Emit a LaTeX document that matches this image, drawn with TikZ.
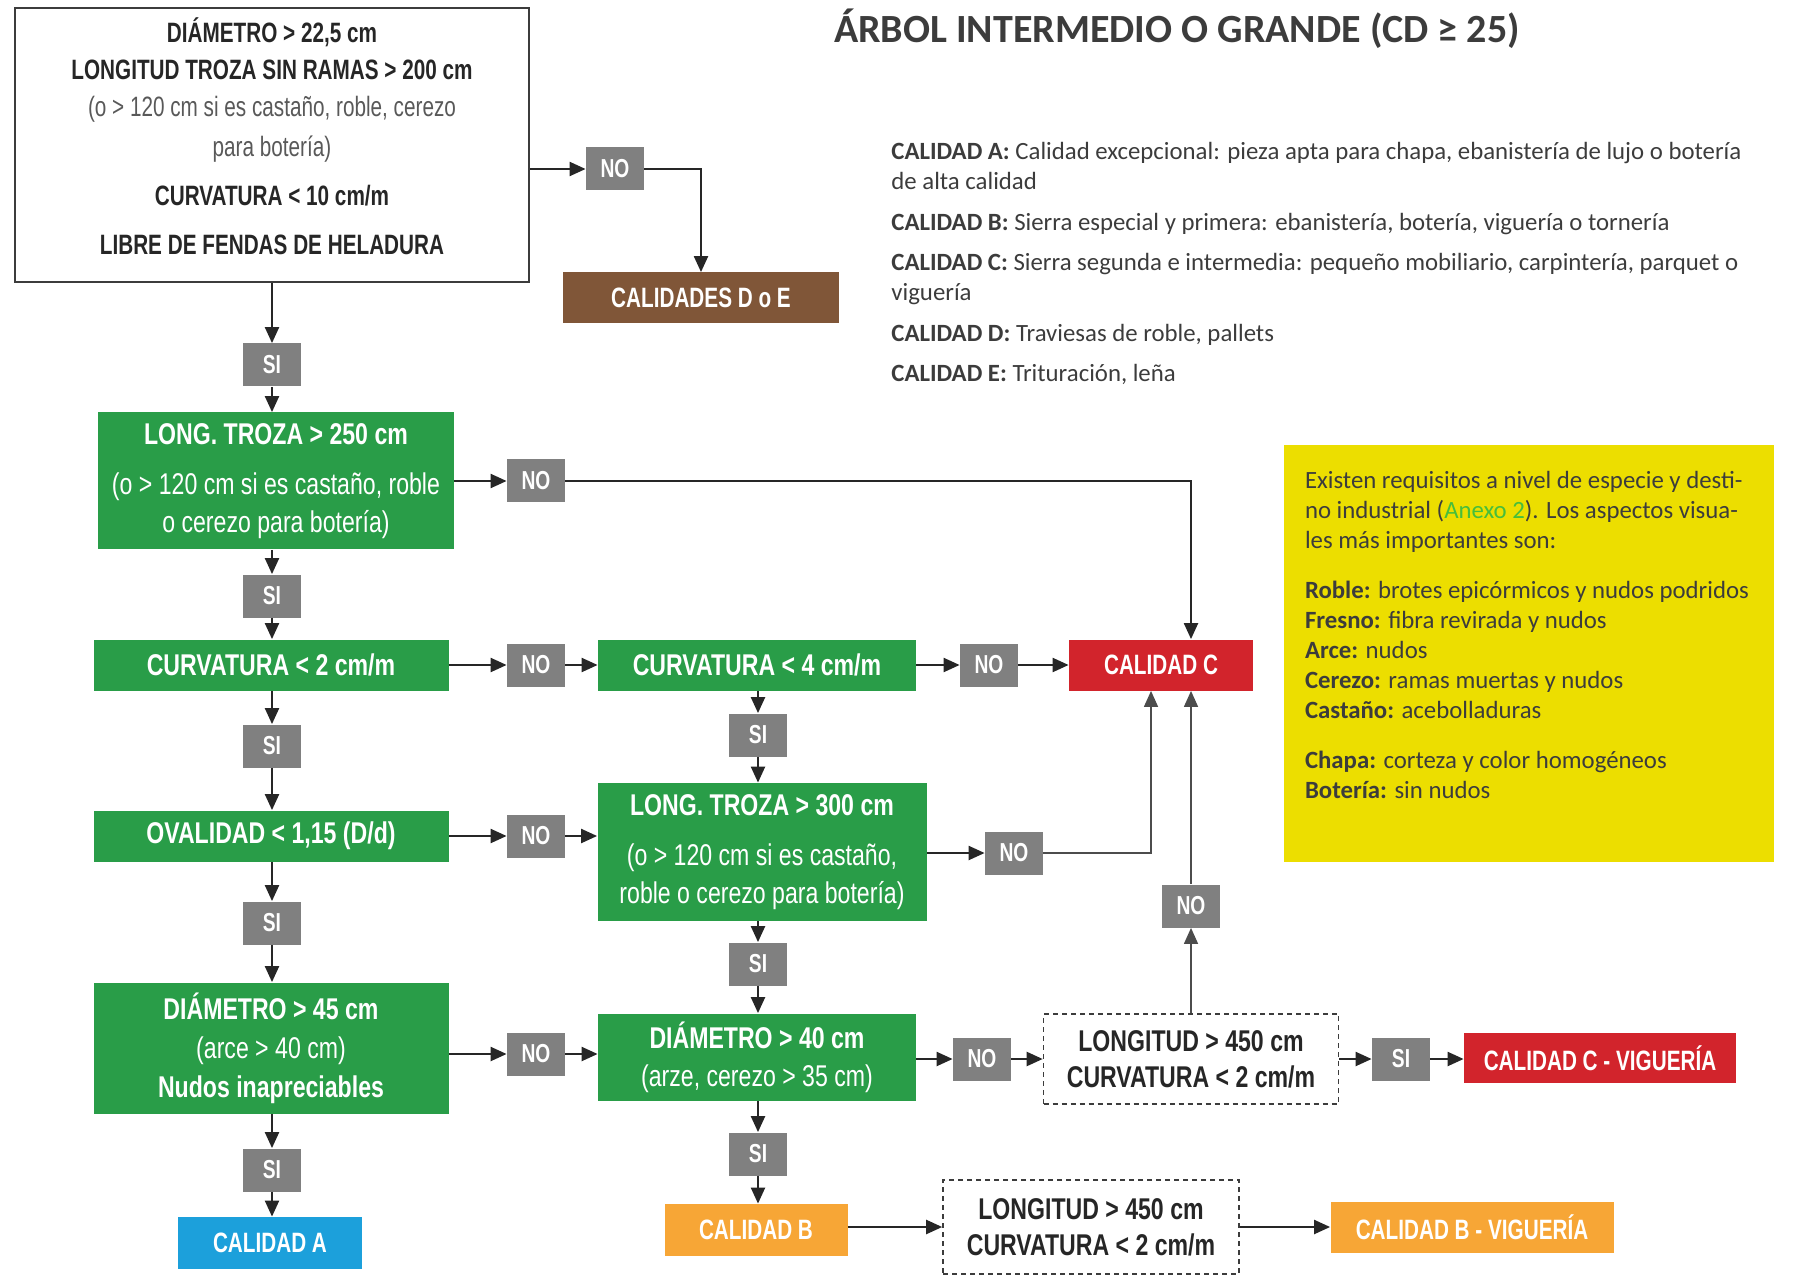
\documentclass[tikz,border=0pt]{standalone}
\usepackage{fontspec}
\setmainfont{Carlito}
\newfontfamily\condfont[FakeStretch=0.74]{Liberation Sans}
\newfontfamily\widecond[FakeStretch=0.77]{Liberation Sans}
\usetikzlibrary{arrows.meta}

\definecolor{boxgreen}{RGB}{41,157,72}
\definecolor{boxred}{RGB}{210,36,44}
\definecolor{boxbrown}{RGB}{128,86,56}
\definecolor{boxorange}{RGB}{247,166,54}
\definecolor{boxblue}{RGB}{28,160,219}
\definecolor{labelgray}{RGB}{128,128,128}
\definecolor{noteyellow}{RGB}{236,222,0}
\definecolor{textgray}{RGB}{60,60,60}
\definecolor{anexogreen}{RGB}{70,190,60}

\tikzset{
  lbl/.style={fill=labelgray, text=white, inner sep=0pt,
    minimum width=29pt, minimum height=21.5pt,
    font=\condfont\bfseries\fontsize{13}{14}\selectfont},
  cond/.style={fill=#1, text=white, inner sep=0pt, align=center,
    font=\widecond\fontsize{15}{21}\selectfont},
  result/.style={fill=#1, text=white, inner sep=0pt,
    font=\condfont\bfseries\fontsize{14}{16}\selectfont},
  dashbox/.style={draw=textgray, line width=0.8pt, dash pattern=on 2.5pt off 2pt,
    inner sep=0pt, align=center, text=black!85,
    font=\widecond\bfseries\fontsize{15}{18}\selectfont},
  arr/.style={draw=black!85, line width=1.1pt, -{Triangle[length=8pt,width=7pt]}},
  thinarr/.style={draw=black!70, line width=0.7pt, -{Triangle[length=8pt,width=7pt]}}
}

\begin{document}
\begin{tikzpicture}[x=0.5pt, y=-0.5pt]
  \useasboundingbox (0,0) rectangle (1814,1288);

  % titulo y leyenda
  \node[text=textgray, font=\bfseries\fontsize{20}{20}\selectfont] (title) at (1177,29) {ÁRBOL INTERMEDIO O GRANDE (CD ≥ 25)};
  \node[anchor=north west, align=left, inner sep=0pt, text=textgray, font=\fontsize{12.4}{15}\selectfont] (defs) at (891,142) {%
    \textbf{CALIDAD A:} Calidad excepcional: pieza apta para chapa, ebanistería de lujo o botería\\
    de alta calidad\\[5.5pt]
    \textbf{CALIDAD B:} Sierra especial y primera: ebanistería, botería, viguería o tornería\\[5pt]
    \textbf{CALIDAD C:} Sierra segunda e intermedia: pequeño mobiliario, carpintería, parquet o\\
    viguería\\[5.5pt]
    \textbf{CALIDAD D:} Traviesas de roble, pallets\\[5pt]
    \textbf{CALIDAD E:} Trituración, leña};

  % nota amarilla
  \node[fill=noteyellow, minimum width=245pt, minimum height=208.5pt] (note) at (1529,653.5) {};
  \node[anchor=north west, align=left, inner sep=0pt, text=textgray, font=\fontsize{12.4}{15}\selectfont] (notetxt) at ([xshift=10.5pt,yshift=-13pt]note.north west) {%
    Existen requisitos a nivel de especie y desti-\\
    no industrial (\textcolor{anexogreen}{Anexo 2}). Los aspectos visua-\\
    les más importantes son:\\[10pt]
    \textbf{Roble:} brotes epicórmicos y nudos podridos\\
    \textbf{Fresno:} fibra revirada y nudos\\
    \textbf{Arce:} nudos\\
    \textbf{Cerezo:} ramas muertas y nudos\\
    \textbf{Castaño:} acebolladuras\\[10pt]
    \textbf{Chapa:} corteza y color homogéneos\\
    \textbf{Botería:} sin nudos};

  % cajas
  \node[draw=textgray, line width=1pt, minimum width=257pt, minimum height=137pt] (top) at (272,145) {};
  \node[align=center, inner sep=0pt, text=black!85,
    font=\condfont\fontsize{14}{18.5}\selectfont] (toptxt) at (272,136) {%
    \textbf{DIÁMETRO > 22,5 cm}\\
    \textbf{LONGITUD TROZA SIN RAMAS > 200 cm}\\
    {\color{black!65}(o > 120 cm si es castaño, roble, cerezo}\\[1.5pt]
    {\color{black!65}para botería)}\\[6pt]
    \textbf{CURVATURA < 10 cm/m}\\[6pt]
    \textbf{LIBRE DE FENDAS DE HELADURA}};
  \node[result=boxbrown, minimum width=138pt, minimum height=25.5pt] (cde) at (701,298) {CALIDADES D o E};

  \node[cond=boxgreen, minimum width=178pt, minimum height=68.5pt] (lt250) at (276,481) {%
    \textbf{LONG. TROZA > 250 cm}\\[4pt](o > 120 cm si es castaño, roble\\[-2pt]o cerezo para botería)};
  \node[cond=boxgreen, minimum width=177.5pt, minimum height=25.5pt] (curv2) at (271,665) {\textbf{CURVATURA < 2 cm/m}};
  \node[cond=boxgreen, minimum width=177.5pt, minimum height=25.5pt] (oval) at (271,836) {\textbf{OVALIDAD < 1,15 (D/d)}};
  \node[cond=boxgreen, minimum width=177.5pt, minimum height=65.5pt, font=\widecond\fontsize{15}{19.5}\selectfont] (d45) at (271,1048) {%
    \textbf{DIÁMETRO > 45 cm}\\(arce > 40 cm)\\\textbf{Nudos inapreciables}};
  \node[result=boxblue, minimum width=92pt, minimum height=26pt] (ca) at (270,1243) {CALIDAD A};

  \node[cond=boxgreen, minimum width=159pt, minimum height=25.5pt] (curv4) at (757,665) {\textbf{CURVATURA < 4 cm/m}};
  \node[cond=boxgreen, minimum width=164.5pt, minimum height=69pt] (lt300) at (762,852) {%
    \textbf{LONG. TROZA > 300 cm}\\[4pt](o > 120 cm si es castaño,\\[-2pt]roble o cerezo para botería)};
  \node[cond=boxgreen, minimum width=159pt, minimum height=43.5pt, font=\widecond\fontsize{15}{19}\selectfont] (d40) at (757,1057) {%
    \textbf{DIÁMETRO > 40 cm}\\(arze, cerezo > 35 cm)};
  \node[result=boxorange, minimum width=91.5pt, minimum height=26pt] (cb) at (756,1230) {CALIDAD B};

  \node[result=boxred, minimum width=92pt, minimum height=25.5pt] (cc) at (1161,665) {CALIDAD C};
  \node[dashbox, minimum width=147.5pt, minimum height=45pt] (len1) at (1191,1059) {LONGITUD > 450 cm\\CURVATURA < 2 cm/m};
  \node[result=boxred, minimum width=136pt, minimum height=25pt] (ccv) at (1600,1058) {CALIDAD C - VIGUERÍA};
  \node[dashbox, minimum width=148pt, minimum height=47pt] (len2) at (1091,1227) {LONGITUD > 450 cm\\CURVATURA < 2 cm/m};
  \node[result=boxorange, minimum width=141.5pt, minimum height=25.5pt] (cbv) at (1472,1227) {CALIDAD B - VIGUERÍA};

  % etiquetas SI / NO
  \node[lbl] (no1) at (615,169) {NO};
  \node[lbl] (si1) at (272,365) {SI};
  \node[lbl] (no2) at (536,481) {NO};
  \node[lbl] (si2) at (272,596) {SI};
  \node[lbl] (no3) at (536,665) {NO};
  \node[lbl] (no4) at (989,665) {NO};
  \node[lbl] (si3) at (272,746) {SI};
  \node[lbl] (si6) at (758,735) {SI};
  \node[lbl] (no5) at (536,836) {NO};
  \node[lbl] (no6) at (1014,853) {NO};
  \node[lbl] (no7) at (1191,906) {NO};
  \node[lbl] (si4) at (272,923) {SI};
  \node[lbl] (si7) at (758,964) {SI};
  \node[lbl] (no8) at (536,1054) {NO};
  \node[lbl] (no9) at (982,1059) {NO};
  \node[lbl] (si8) at (1401,1059) {SI};
  \node[lbl] (si5) at (272,1170) {SI};
  \node[lbl] (si9) at (758,1154) {SI};

  % flechas
  \draw[arr] (top.east |- no1) -- (no1);
  \draw[arr] (no1) -| (cde);
  \draw[arr] (top.south -| si1) -- (si1);
  \draw[arr] (si1) -- (si1 |- lt250.north);
  \draw[arr] (lt250) -- (no2);
  \draw[arr] (no2) -| (no7 |- cc.north);

  \draw[arr] (lt250.south -| si2) -- (si2);
  \draw[arr] (si2) -- (si2 |- curv2.north);
  \draw[arr] (curv2) -- (no3);
  \draw[arr] (no3) -- (curv4);
  \draw[arr] (curv4) -- (no4);
  \draw[arr] (no4) -- (cc);

  \draw[arr] (curv2.south -| si3) -- (si3);
  \draw[arr] (si3) -- (si3 |- oval.north);
  \draw[arr] (oval) -- (no5);
  \draw[arr] (no5) -- (no5 -| lt300.west);

  \draw[arr] (curv4.south -| si6) -- (si6);
  \draw[arr] (si6) -- (si6 |- lt300.north);
  \draw[arr] (lt300.east |- no6) -- (no6);
  \draw[thinarr] (no6) -| ([xshift=-5pt]cc.south);

  \draw[arr] (oval.south -| si4) -- (si4);
  \draw[arr] (si4) -- (si4 |- d45.north);
  \draw[arr] (d45.east |- no8) -- (no8);
  \draw[arr] (no8) -- (no8 -| d40.west);

  \draw[arr] (lt300.south -| si7) -- (si7);
  \draw[arr] (si7) -- (si7 |- d40.north);
  \draw[arr] (d40.east |- no9) -- (no9);
  \draw[arr] (no9) -- (len1);
  \draw[thinarr] (len1) -- (no7);
  \draw[thinarr] (no7) -- (no7 |- cc.south);
  \draw[arr] (len1) -- (si8);
  \draw[arr] (si8) -- (si8 -| ccv.west);

  \draw[arr] (d45.south -| si5) -- (si5);
  \draw[arr] (si5) -- (si5 |- ca.north);

  \draw[arr] (d40.south -| si9) -- (si9);
  \draw[arr] (si9) -- (si9 |- cb.north);
  \draw[arr] (cb.east |- len2) -- (len2);
  \draw[arr] (len2) -- (cbv);
\end{tikzpicture}
\end{document}
